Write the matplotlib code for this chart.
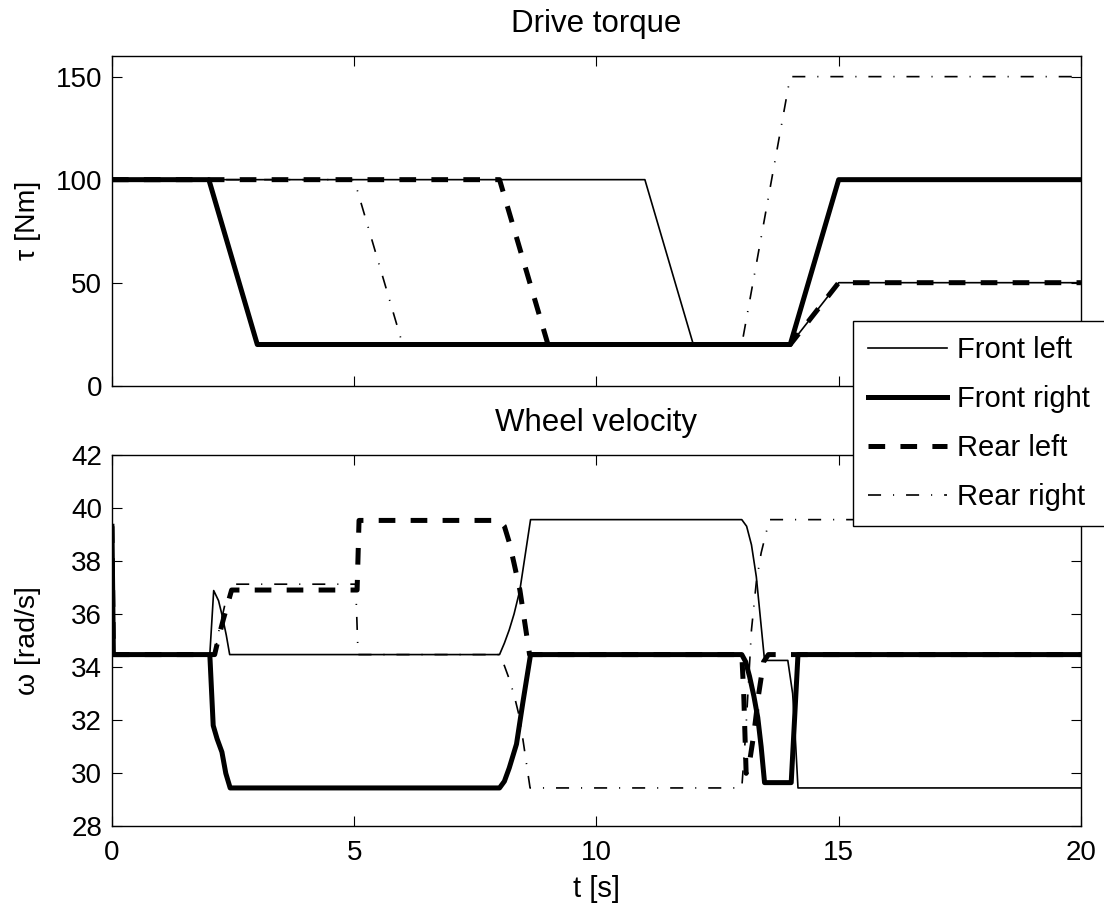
import matplotlib
matplotlib.use("Agg")
import matplotlib.pyplot as plt
from matplotlib.lines import Line2D

plt.rcParams['font.family'] = ['Liberation Sans', 'DejaVu Sans']
plt.rcParams['lines.scale_dashes'] = False

# ---------------- Data ----------------
series_names = ["Front left", "Front right", "Rear left", "Rear right"]

# Drive torque [Nm]
tq_fl_t = [0, 11, 12, 14, 15, 20]
tq_fl_v = [100, 100, 20, 20, 50, 50]
tq_fr_t = [0, 2, 3, 14, 15, 20]
tq_fr_v = [100, 100, 20, 20, 100, 100]
tq_rl_t = [0, 8, 9, 14, 15, 20]
tq_rl_v = [100, 100, 20, 20, 50, 50]
tq_rr_t = [0, 5, 6, 13, 14, 20]
tq_rr_v = [100, 100, 20, 20, 150, 150]

# Wheel velocity [rad/s]
w_fl_t = [0, 0.03, 2.02, 2.10, 2.20, 2.28, 2.36, 2.43, 8.0, 8.1, 8.2, 8.3, 8.42, 8.64,
          13.0, 13.1, 13.2, 13.3, 13.47, 13.95, 14.05, 14.1, 14.16, 20]
w_fl_v = [39.3, 34.47, 34.47, 36.88, 36.5, 35.9, 35.2, 34.47, 34.47, 34.9, 35.4, 36.0, 36.9, 39.55,
          39.55, 39.3, 38.6, 37.4, 34.25, 34.25, 33.0, 31.5, 29.45, 29.45]

w_fr_t = [0, 0.03, 2.02, 2.09, 2.17, 2.27, 2.35, 2.44, 8.0, 8.1, 8.2, 8.35, 8.48, 8.64,
          13.0, 13.08, 13.16, 13.25, 13.33, 13.4, 13.47, 14.02, 14.16, 20]
w_fr_v = [39.3, 34.47, 34.47, 31.8, 31.3, 30.8, 30.0, 29.45, 29.45, 29.7, 30.2, 31.1, 32.65, 34.47,
          34.47, 34.2, 33.65, 32.9, 32.1, 31.0, 29.65, 29.65, 34.47, 34.47]

w_rl_t = [0, 0.03, 2.12, 2.2, 2.3, 2.47, 5.06, 5.1, 8.0, 8.1, 8.2, 8.3, 8.42, 8.62,
          13.0, 13.04, 13.09, 13.15, 13.25, 13.35, 13.45, 13.55, 20]
w_rl_v = [39.3, 34.47, 34.47, 35.1, 35.8, 36.9, 36.9, 39.52, 39.52, 39.3, 38.7, 37.9, 36.9, 34.47,
          34.47, 33.0, 30.0, 30.3, 31.5, 33.0, 34.2, 34.47, 34.47]

w_rr_t = [0, 0.03, 2.12, 2.2, 2.35, 2.55, 5.03, 5.08, 8.0, 8.1, 8.2, 8.3, 8.42, 8.63,
          13.0, 13.08, 13.2, 13.3, 13.4, 13.57, 20]
w_rr_v = [39.3, 34.47, 34.47, 35.3, 36.5, 37.12, 37.12, 34.47, 34.47, 34.05, 33.55, 32.95, 32.05, 29.45,
          29.45, 31.5, 35.4, 37.2, 38.3, 39.55, 39.55]

torque_ticks = [0, 50, 100, 150]
omega_ticks = [28, 30, 32, 34, 36, 38, 40, 42]
time_ticks = [0, 5, 10, 15, 20]

# ---------------- Styles ----------------
THIN = 1.2
THICK = 3.6
styles = [
    dict(color='black', lw=THIN, ls='-'),
    dict(color='black', lw=THICK, ls='-'),
    dict(color='black', lw=THICK, ls=(0, (12, 11))),
    dict(color='black', lw=THIN, ls=(0, (9.4, 8.6, 0.8, 8.6))),
]

fig = plt.figure(figsize=(11.04, 9.08), dpi=100)
ax1 = fig.add_axes([0.1014, 0.5752, 0.8777, 0.3631])
ax2 = fig.add_axes([0.1014, 0.0898, 0.8777, 0.4096])

for (t, v), st in zip([(tq_fl_t, tq_fl_v), (tq_fr_t, tq_fr_v), (tq_rl_t, tq_rl_v), (tq_rr_t, tq_rr_v)], styles):
    ax1.plot(t, v, **st)
for (t, v), st in zip([(w_fl_t, w_fl_v), (w_fr_t, w_fr_v), (w_rl_t, w_rl_v), (w_rr_t, w_rr_v)], styles):
    ax2.plot(t, v, **st)

for ax in (ax1, ax2):
    ax.set_xlim(0, 20)
    ax.set_xticks(time_ticks)
    ax.tick_params(direction='in', length=7, width=0.8, top=True, right=True,
                   labelsize=20)
    ax.tick_params(axis='x', pad=10)
    ax.tick_params(axis='y', pad=7)
    for s in ax.spines.values():
        s.set_linewidth(1.0)

ax1.set_ylim(0, 160)
ax1.set_yticks(torque_ticks)
ax1.set_xticklabels([])
ax1.set_title("Drive torque", fontsize=22.5, pad=17)
ax1.set_ylabel("τ [Nm]", fontsize=20.5, va='center')
ax1.yaxis.set_label_coords(-0.087, 0.5)

ax2.set_ylim(28, 42)
ax2.set_yticks(omega_ticks)
ax2.set_title("Wheel velocity", fontsize=22.5, pad=17)
ax2.set_ylabel("ω [rad/s]", fontsize=20.5, va='center')
ax2.yaxis.set_label_coords(-0.087, 0.5)
ax2.set_xlabel("t [s]", fontsize=21, labelpad=6)

handles = [Line2D([], [], **st) for st in styles]
leg = fig.legend(handles, series_names, loc='upper left',
                 bbox_to_anchor=(853 / 1104, 1 - 321 / 908), borderaxespad=0,
                 fontsize=21, frameon=True, fancybox=False, framealpha=1,
                 edgecolor='black', handlelength=2.7, handletextpad=0.34,
                 borderpad=0.52, labelspacing=0.72)
leg.get_frame().set_linewidth(1.0)

fig.savefig("out.png", dpi=100)
